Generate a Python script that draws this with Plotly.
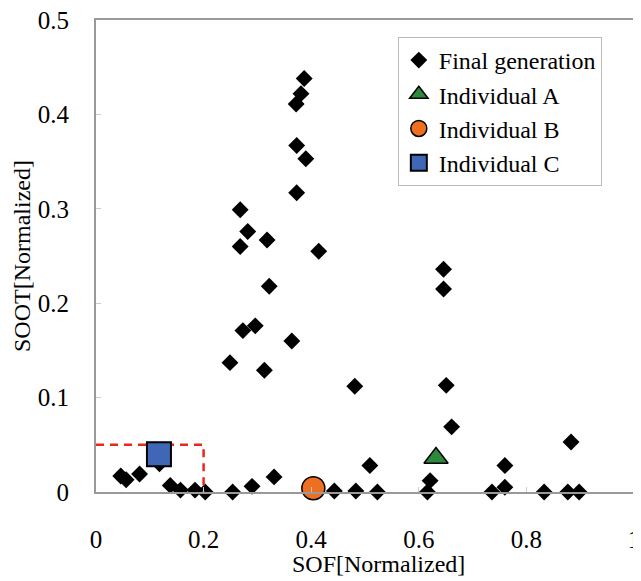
import plotly.graph_objects as go

# Final generation (SOF, SOOT)
final_x = [0.387, 0.381, 0.372, 0.373, 0.390, 0.373, 0.268, 0.282, 0.318, 0.268,
           0.414, 0.322, 0.273, 0.296, 0.364, 0.249, 0.313, 0.481, 0.646, 0.646,
           0.651, 0.661, 0.883, 0.509, 0.760, 0.621, 0.616, 0.443, 0.483, 0.523,
           0.736, 0.760, 0.833, 0.877, 0.898, 0.046, 0.056, 0.081, 0.118, 0.138,
           0.157, 0.184, 0.203, 0.254, 0.290, 0.331]
final_y = [0.438, 0.422, 0.411, 0.367, 0.353, 0.317, 0.299, 0.276, 0.267, 0.260,
           0.255, 0.218, 0.171, 0.176, 0.160, 0.137, 0.129, 0.112, 0.236, 0.215,
           0.113, 0.069, 0.053, 0.028, 0.028, 0.012, 0.000, 0.001, 0.001, 0.000,
           0.000, 0.005, 0.000, 0.000, 0.000, 0.017, 0.013, 0.019, 0.030, 0.007,
           0.002, 0.002, 0.000, 0.000, 0.006, 0.016]

ind_a_x, ind_a_y = [0.632], [0.036]
ind_b_x, ind_b_y = [0.404], [0.004]
ind_c_x, ind_c_y = [0.117], [0.040]

box_x = [0.0, 0.2, 0.2]
box_y = [0.05, 0.05, 0.0]

xticks = [0, 0.2, 0.4, 0.6, 0.8, 1]
xtick_text = ["0", "0.2", "0.4", "0.6", "0.8", "1"]
yticks = [0, 0.1, 0.2, 0.3, 0.4, 0.5]
ytick_text = ["0", "0.1", "0.2", "0.3", "0.4", "0.5"]

x_title = "SOF[Normalized]"
y_title = "SOOT[Normalized]"

FONT = "Liberation Serif"

fig = go.Figure()
fig.add_trace(go.Scatter(
    x=final_x, y=final_y, mode="markers", name="Final generation",
    marker=dict(symbol="diamond", size=13, color="black", line=dict(width=0)),
    cliponaxis=False))
fig.add_trace(go.Scatter(
    x=box_x, y=box_y, mode="lines", showlegend=False, hoverinfo="skip",
    line=dict(color="#e8281e", width=2.5, dash="8px,6px"), cliponaxis=False))
fig.add_trace(go.Scatter(
    x=ind_a_x, y=ind_a_y, mode="markers", name="Individual A",
    marker=dict(symbol="triangle-up", size=21, color="#2b8a3c",
                line=dict(color="black", width=1.5)), cliponaxis=False))
fig.add_trace(go.Scatter(
    x=ind_b_x, y=ind_b_y, mode="markers", name="Individual B",
    marker=dict(symbol="circle", size=23, color="#ee6f1f",
                line=dict(color="black", width=1.5)), cliponaxis=False))
fig.add_trace(go.Scatter(
    x=ind_c_x, y=ind_c_y, mode="markers", name="Individual C",
    marker=dict(symbol="square", size=24, color="#3f67b5",
                line=dict(color="black", width=2)), cliponaxis=False))

axis_common = dict(
    showgrid=False, zeroline=False, showline=True, linecolor="#999999",
    linewidth=2, mirror=True, ticks="inside", ticklen=5, tickcolor="#cccccc",
    tickfont=dict(family=FONT, size=25, color="black"), automargin=False,
    ticklabeloverflow="allow",
)

fig.update_layout(
    width=633, height=573,
    margin=dict(l=88, r=7, t=12, b=89),
    paper_bgcolor="white", plot_bgcolor="white",
    font=dict(family=FONT, color="black"),
    xaxis=dict(range=[0, 1], tickvals=xticks, ticktext=xtick_text,
               ticklabelstandoff=24, **axis_common),
    yaxis=dict(range=[0, 0.5], tickvals=yticks, ticktext=ytick_text,
               ticklabelstandoff=20, **axis_common),
    annotations=[
        dict(text=x_title, xref="paper", yref="paper", x=0.525, y=0,
             yshift=-72, xanchor="center", yanchor="middle", showarrow=False,
             font=dict(family=FONT, size=24, color="black")),
        dict(text=y_title, xref="paper", yref="paper", x=0, y=0.5,
             xshift=-74, xanchor="center", yanchor="middle", showarrow=False,
             textangle=-90, font=dict(family=FONT, size=24, color="black")),
    ],
    legend=dict(x=0.561, y=0.964, xanchor="left", yanchor="top",
                bgcolor="white", bordercolor="#bbbbbb", borderwidth=1,
                font=dict(family=FONT, size=24, color="black"),
                itemwidth=30, tracegroupgap=0),
    showlegend=True,
)

fig.write_html("out.html")
